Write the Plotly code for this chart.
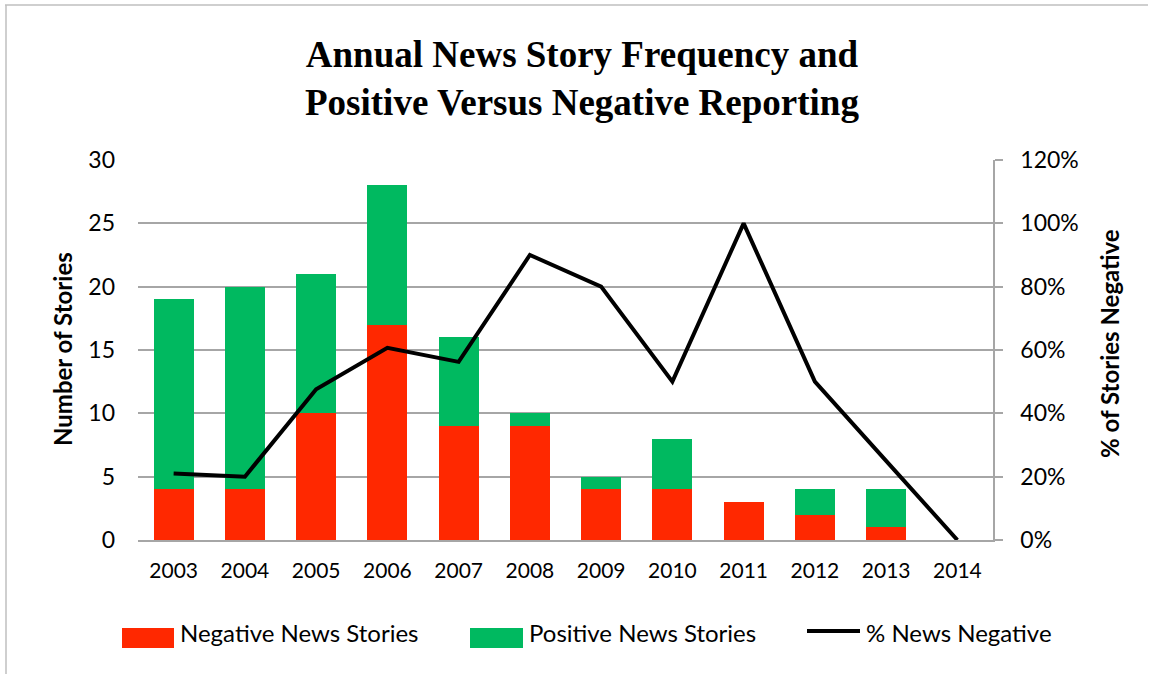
import plotly.graph_objects as go

# Annual story counts, 2003-2014
years = ["2003", "2004", "2005", "2006", "2007", "2008",
         "2009", "2010", "2011", "2012", "2013", "2014"]
negative = [4, 4, 10, 17, 9, 9, 4, 4, 3, 2, 1, 0]
positive = [15, 16, 11, 11, 7, 1, 1, 4, 0, 2, 3, 0]
pct_negative = [0.21, 0.20, 0.476, 0.607, 0.5625, 0.90,
                0.80, 0.50, 1.00, 0.50, 0.25, 0.0]

left_ticks = [0, 5, 10, 15, 20, 25, 30]
right_ticks = [0, 0.2, 0.4, 0.6, 0.8, 1.0, 1.2]

RED = "#FF2800"
GREEN = "#00B960"
GRID = "#A6A6A6"
FONT = "Lato"

fig = go.Figure()
fig.add_trace(go.Bar(x=years, y=negative, name="Negative News Stories",
                     marker=dict(color=RED, line=dict(width=0)), showlegend=False))
fig.add_trace(go.Bar(x=years, y=positive, name="Positive News Stories",
                     marker=dict(color=GREEN, line=dict(width=0)), showlegend=False))
fig.add_trace(go.Scatter(x=years, y=pct_negative, name="% News Negative", yaxis="y2",
                         mode="lines", line=dict(color="black", width=4),
                         showlegend=False))

fig.update_layout(
    width=1157, height=674,
    margin=dict(l=138, r=164, t=160, b=134),
    paper_bgcolor="white", plot_bgcolor="white",
    barmode="stack", bargap=0.44,
    font=dict(family=FONT, size=20, color="black"),
    xaxis=dict(
        showline=True, linecolor=GRID, linewidth=1.5,
        showgrid=False, ticks="", ticklabelstandoff=11,
        tickfont=dict(size=21),
    ),
    yaxis=dict(
        range=[0, 30], tickvals=left_ticks,
        showgrid=True, gridcolor=GRID, gridwidth=1.5,
        showline=False, zeroline=False, ticks="",
        ticklabelstandoff=22, tickfont=dict(size=23),
    ),
    yaxis2=dict(
        range=[0, 1.2], tickvals=right_ticks, tickformat=".0%",
        overlaying="y", side="right",
        showgrid=False, zeroline=False,
        showline=True, linecolor=GRID, linewidth=1.5,
        ticks="outside", ticklen=8, tickcolor=GRID, tickwidth=1.5,
        ticklabelstandoff=13, tickfont=dict(size=23),
    ),
)

W, H = 1157.0, 674.0
x0p, x1p = 138.0, 993.0
y0p, y1p = 540.0, 160.0


def px_to_paper_x(px):
    return (px - x0p) / (x1p - x0p)


def px_to_paper_y(py):
    return (y0p - py) / (y0p - y1p)


# two-line chart title
fig.add_annotation(
    text="<b>Annual News Story Frequency and<br>Positive Versus Negative Reporting</b>",
    xref="paper", yref="paper", x=px_to_paper_x(582), y=px_to_paper_y(78),
    xanchor="center", yanchor="middle", showarrow=False, align="center",
    font=dict(family="Liberation Serif", size=37, color="black"),
)

# axis titles
fig.add_annotation(text="<b>Number of Stories</b>", xref="paper", yref="paper",
                   x=px_to_paper_x(62), y=px_to_paper_y(349), textangle=-90,
                   showarrow=False, xanchor="center", yanchor="middle",
                   font=dict(size=24))
fig.add_annotation(text="<b>% of Stories Negative</b>", xref="paper", yref="paper",
                   x=px_to_paper_x(1109), y=px_to_paper_y(344), textangle=-90,
                   showarrow=False, xanchor="center", yanchor="middle",
                   font=dict(size=24))

# legend row below the plot
legend_items = [
    ("rect", RED, 122, 174, "Negative News Stories"),
    ("rect", GREEN, 470, 523, "Positive News Stories"),
    ("line", "black", 807, 860, "% News Negative"),
]

for kind, col, a, b, label in legend_items:
    if kind == "rect":
        fig.add_shape(type="rect", xref="paper", yref="paper",
                      x0=px_to_paper_x(a), x1=px_to_paper_x(b),
                      y0=px_to_paper_y(648), y1=px_to_paper_y(628),
                      fillcolor=col, line=dict(width=0))
    else:
        fig.add_shape(type="line", xref="paper", yref="paper",
                      x0=px_to_paper_x(a), x1=px_to_paper_x(b),
                      y0=px_to_paper_y(631), y1=px_to_paper_y(631),
                      line=dict(color=col, width=4))
    fig.add_annotation(text=label, xref="paper", yref="paper",
                       x=px_to_paper_x(b + 4), y=px_to_paper_y(632),
                       xanchor="left", yanchor="middle", showarrow=False,
                       font=dict(size=24))

# chart frame (top and left edges)
fig.add_shape(type="line", xref="paper", yref="paper",
              x0=px_to_paper_x(5), x1=px_to_paper_x(1148),
              y0=px_to_paper_y(5), y1=px_to_paper_y(5),
              line=dict(color="#BFBFBF", width=1.5))
fig.add_shape(type="line", xref="paper", yref="paper",
              x0=px_to_paper_x(6), x1=px_to_paper_x(6),
              y0=px_to_paper_y(5), y1=px_to_paper_y(680),
              line=dict(color="#BFBFBF", width=1.5))

fig.write_html("out.html")
